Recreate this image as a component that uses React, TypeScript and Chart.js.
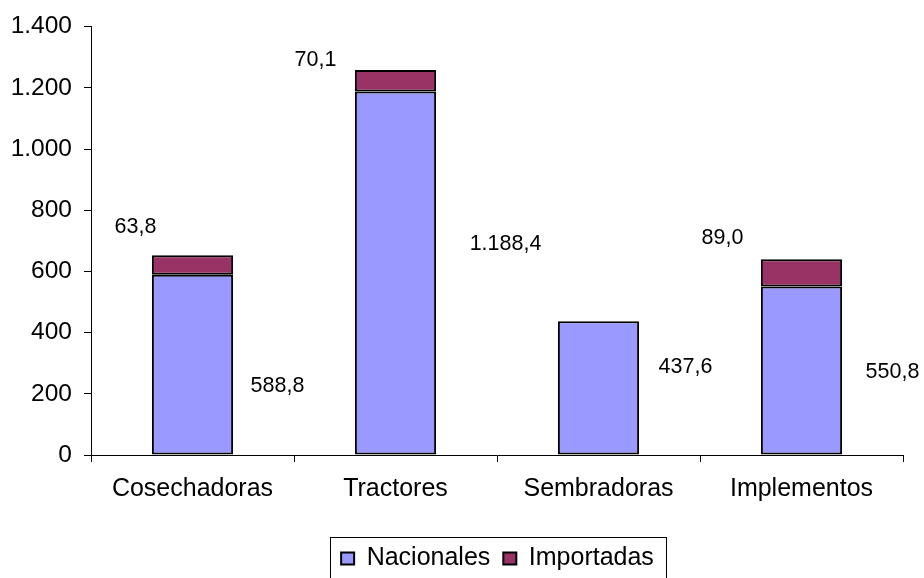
import React, { useEffect, useRef } from "react";
import { Chart, registerables } from "chart.js";

Chart.register(...registerables);

const categories = ["Cosechadoras", "Tractores", "Sembradoras", "Implementos"];
const nacionales = [588.8, 1188.4, 437.6, 550.8];
const importadas = [63.8, 70.1, 0, 89.0];
const yTicks = [0, 200, 400, 600, 800, 1000, 1200, 1400];

// label placement offsets (px), relative to the bar's centre
const nacLabelOffsets = [[85, 21], [110, -29], [87, -21], [91, 2]];
const impLabelOffsets = [[-57, -28], [-80, -10], [0, 0], [-79, -21]];

const FONT = "'Liberation Sans', Arial, sans-serif";

function thousands(s: string) {
  return s.replace(/\B(?=(\d{3})+(?!\d))/g, ".");
}
function fmtLabel(v: number) {
  const [i, d] = v.toFixed(1).split(".");
  return thousands(i) + "," + d;
}

const labelPlugin = {
  id: "valueLabels",
  afterDatasetsDraw(chart: any) {
    const ctx = chart.ctx;
    ctx.save();
    ctx.font = `21.5px ${FONT}`;
    ctx.fillStyle = "#000";
    ctx.textAlign = "center";
    ctx.textBaseline = "middle";
    chart.data.datasets.forEach((ds: any, di: number) => {
      const meta = chart.getDatasetMeta(di);
      meta.data.forEach((el: any, i: number) => {
        const v = ds.data[i];
        if (!v) return;
        const p = el.getProps(["x", "y", "base"], true);
        if (di === 0) {
          const [dx, dy] = nacLabelOffsets[i];
          ctx.fillText(fmtLabel(v), p.x + dx, (p.y + p.base) / 2 + dy);
        } else {
          const [dx, dy] = impLabelOffsets[i];
          ctx.fillText(fmtLabel(v), p.x + dx, p.y + dy);
        }
      });
    });
    ctx.restore();
  },
};

const legendFramePlugin = {
  id: "legendFrame",
  afterLayout(chart: any) {
    const lg = chart.legend;
    if (lg) {
      lg.left += 46;
      lg.right += 46;
      lg.top += 3;
      lg.bottom += 3;
    }
  },
  afterDraw(chart: any) {
    const lg = chart.legend;
    if (!lg || !lg.legendHitBoxes || !lg.legendHitBoxes.length) return;
    const boxes = lg.legendHitBoxes;
    const left = Math.min(...boxes.map((b: any) => b.left)) - 11;
    const right = Math.max(...boxes.map((b: any) => b.left + b.width)) + 12;
    const ctx = chart.ctx;
    ctx.save();
    ctx.strokeStyle = "#000";
    ctx.lineWidth = 1;
    ctx.strokeRect(Math.round(left) + 0.5, 537.5, Math.round(right - left), 60);
    ctx.restore();
  },
};

export default function App() {
  const ref = useRef<HTMLCanvasElement>(null);
  useEffect(() => {
    if (!ref.current) return;
    const chart = new Chart(ref.current, {
      type: "bar",
      data: {
        labels: categories,
        datasets: [
          {
            label: "Nacionales",
            data: nacionales,
            backgroundColor: "#9999FF",
            borderColor: "#000",
            borderWidth: 2,
            borderSkipped: false,
            barPercentage: 0.4,
            categoryPercentage: 1,
          },
          {
            label: "Importadas",
            data: importadas,
            backgroundColor: "#993366",
            borderColor: "#000",
            borderWidth: 2,
            borderSkipped: false,
            barPercentage: 0.4,
            categoryPercentage: 1,
          },
        ],
      },
      options: {
        responsive: false,
        animation: false,
        layout: { padding: { top: 24, right: 21, left: 0, bottom: 0 } },
        plugins: {
          tooltip: { enabled: false },
          legend: {
            position: "bottom",
            labels: {
              font: { family: FONT, size: 25 },
              color: "#000",
              boxWidth: 13,
              boxHeight: 12,
              padding: 13,
            },
          },
        },
        scales: {
          x: {
            stacked: true,
            grid: { display: true, drawOnChartArea: false, tickLength: 7, color: "#000", offset: true },
            border: { display: true, color: "#000", width: 1 },
            ticks: { font: { family: FONT, size: 25 }, color: "#000", padding: 12, maxRotation: 0 },
            afterFit: (s: any) => {
              s.height = 75;
            },
          },
          y: {
            stacked: true,
            min: 0,
            max: 1400,
            grid: { display: true, drawOnChartArea: false, tickLength: 7, color: "#000" },
            border: { display: true, color: "#000", width: 1 },
            afterBuildTicks: (s: any) => {
              s.ticks = yTicks.map((v) => ({ value: v }));
            },
            ticks: {
              font: { family: FONT, size: 24.5 },
              color: "#000",
              padding: 12,
              callback: (v: any) => thousands(String(v)),
            },
            afterFit: (s: any) => {
              s.width = 91;
            },
          },
        },
      },
      plugins: [labelPlugin, legendFramePlugin],
    });
    return () => chart.destroy();
  }, []);
  return (
    <div style={{ position: "absolute", left: 0, top: 0, width: 924, height: 578, background: "#fff" }}>
      <canvas ref={ref} width={924} height={578} />
    </div>
  );
}
